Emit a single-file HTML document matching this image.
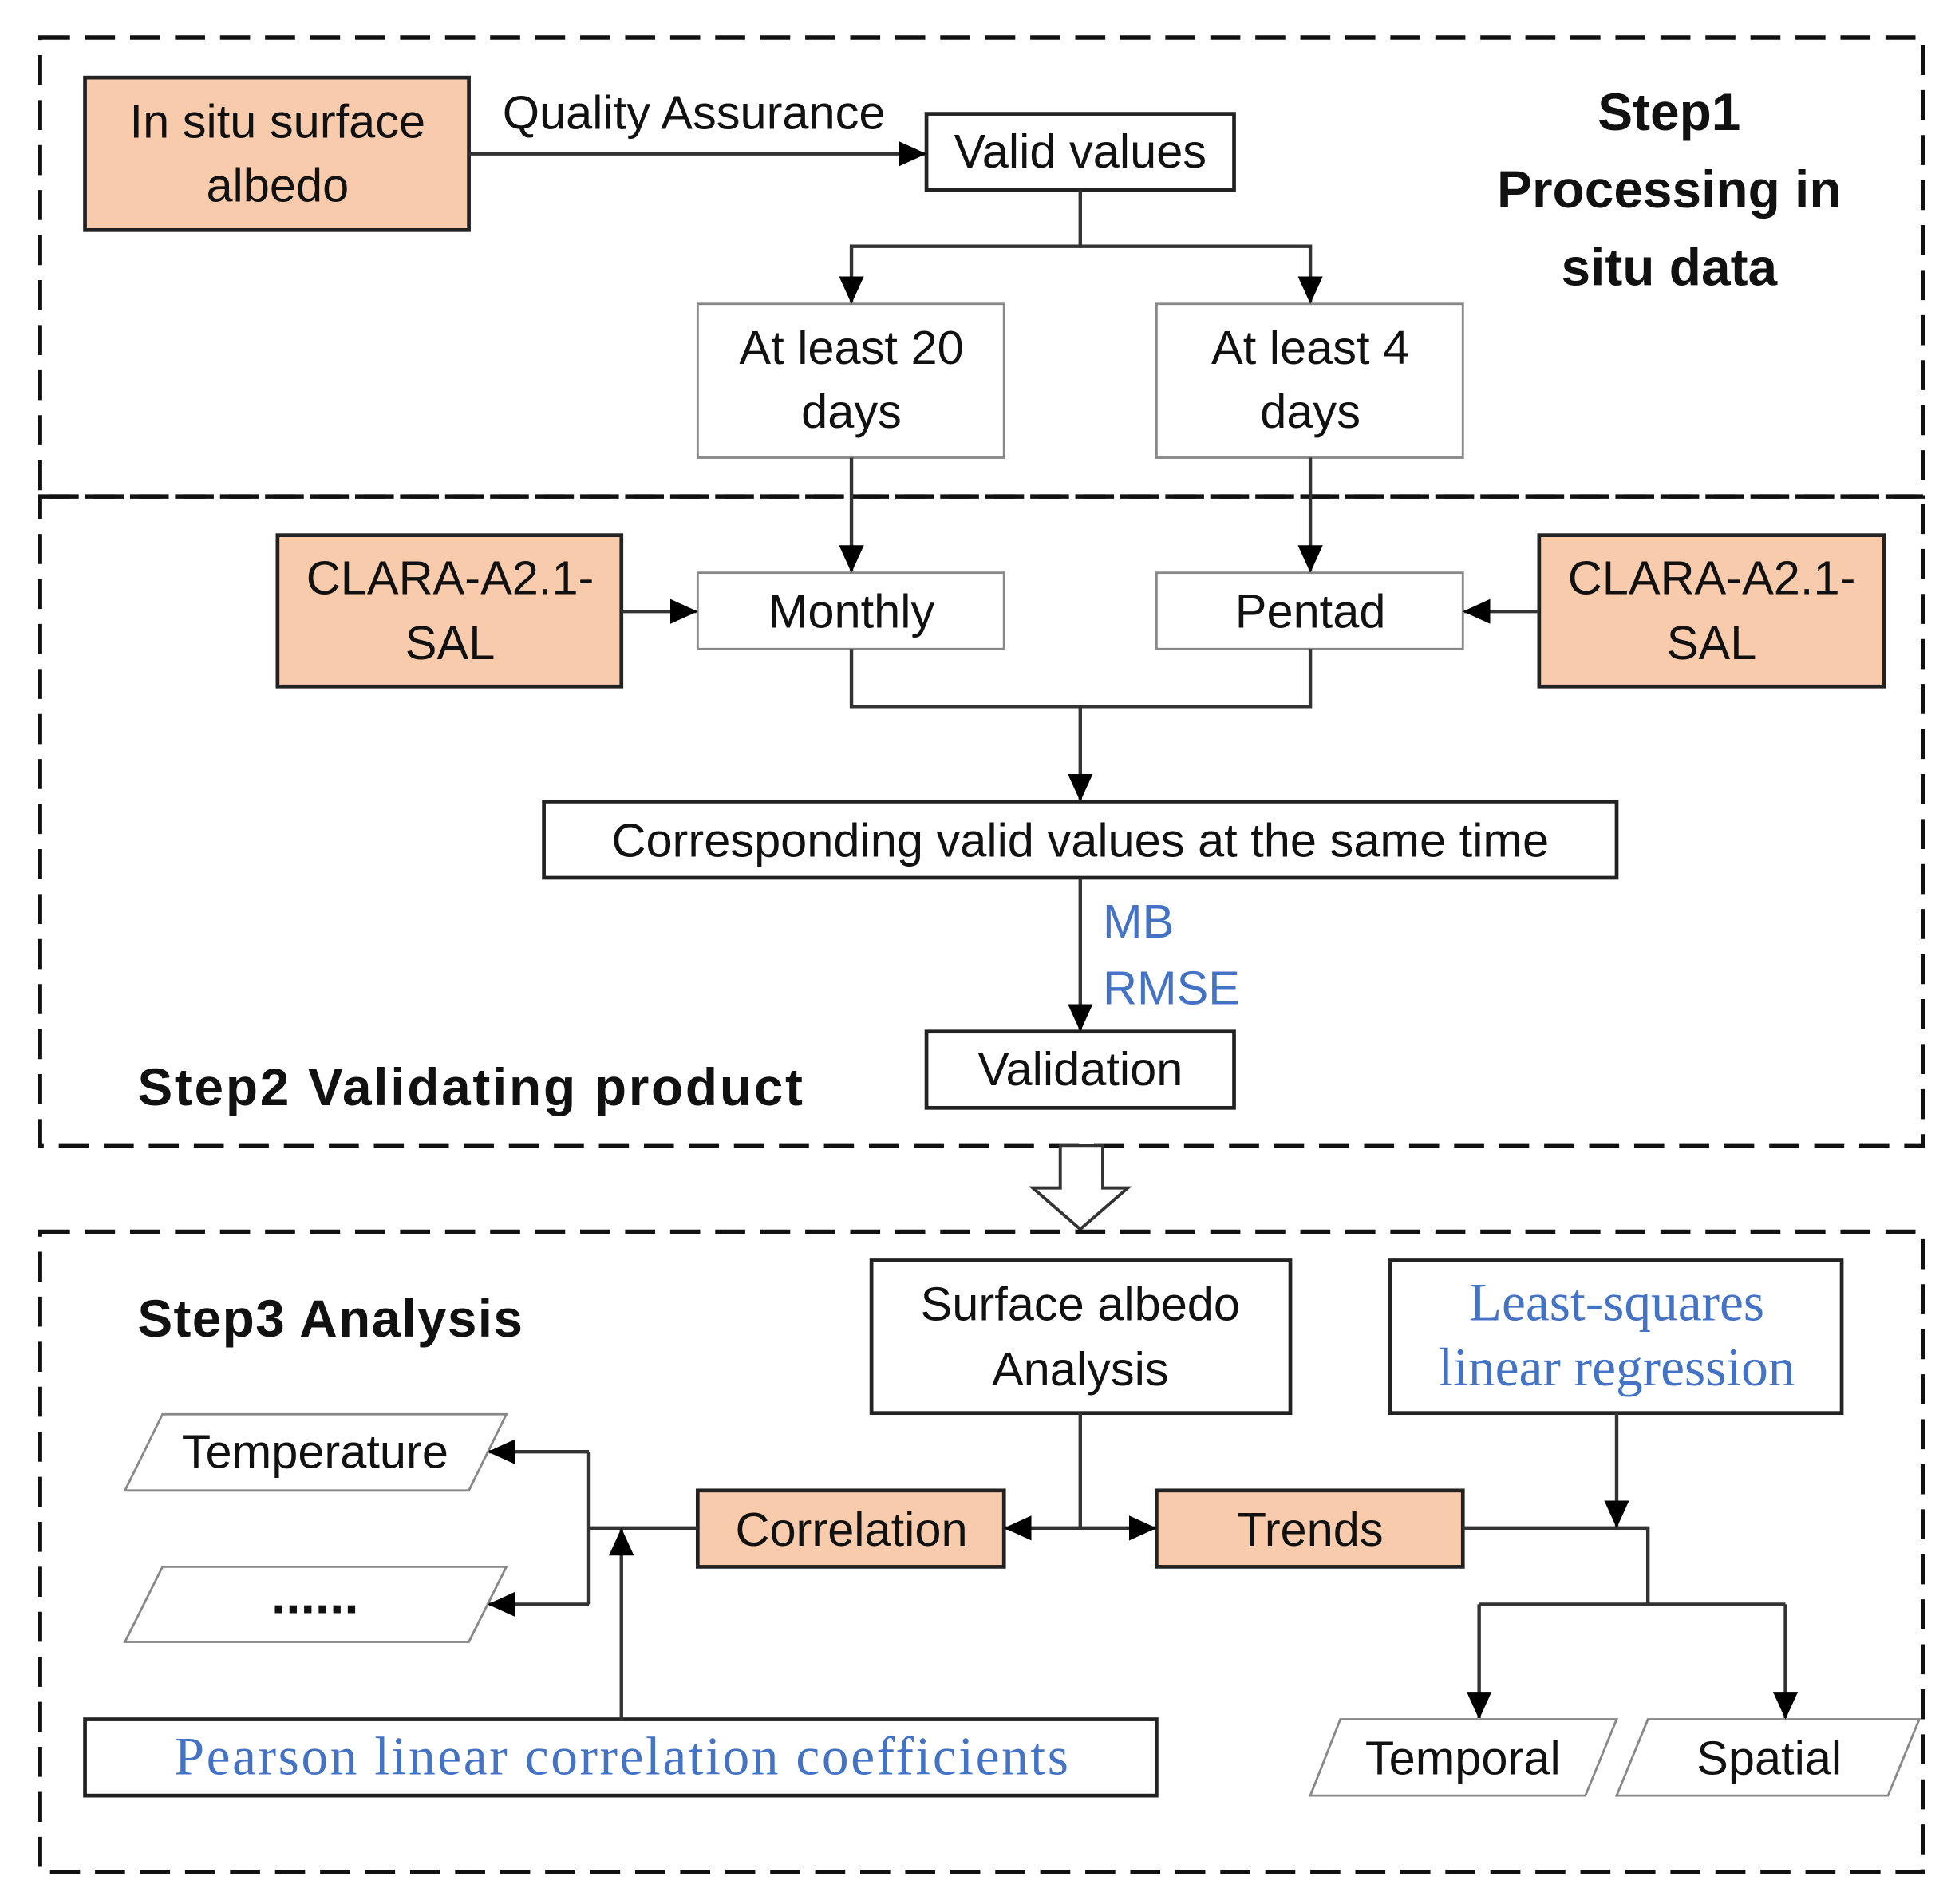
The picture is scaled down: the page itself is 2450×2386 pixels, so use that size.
<!DOCTYPE html>
<html><head><meta charset="utf-8"><style>
html,body{margin:0;padding:0;background:#fff;}
svg{display:block;}
text{font-family:"Liberation Sans",sans-serif;font-size:38px;fill:#111;}
.b{font-family:"Liberation Sans",sans-serif;font-weight:bold;font-size:42px;}
.blue{fill:#4472C4;}
.serif{font-family:"Liberation Serif",serif;font-size:43px;fill:#4472C4;}
</style></head><body>
<svg width="2450" height="2386" viewBox="0 0 1563.6 1522.7" preserveAspectRatio="none" xmlns="http://www.w3.org/2000/svg">
<defs>
<marker id="a" markerWidth="22" markerHeight="22" refX="21" refY="11" orient="auto" markerUnits="userSpaceOnUse" viewBox="0 0 22 22">
<path d="M0,1 L22,11 L0,21 z" fill="#000"/></marker>
</defs>
<rect width="1563.6" height="1522.7" fill="#fff"/>
<g fill="none" stroke="#111" stroke-width="3.5" stroke-dasharray="24,12">
<rect x="32" y="30" width="1506" height="367"/>
<rect x="32" y="397" width="1506" height="519"/>
<rect x="32" y="985" width="1506" height="512"/>
</g>
<g stroke="#222" stroke-width="3">
<rect x="68" y="62" width="307" height="122" fill="#F8CBAD"/>
<rect x="741" y="91" width="246" height="61" fill="#fff"/>
<rect x="222" y="428" width="275" height="121" fill="#F8CBAD"/>
<rect x="1231" y="428" width="276" height="121" fill="#F8CBAD"/>
<rect x="435" y="641" width="858" height="61" fill="#fff"/>
<rect x="741" y="825" width="246" height="61" fill="#fff"/>
<rect x="697" y="1008" width="335" height="122" fill="#fff"/>
<rect x="1112" y="1008" width="361" height="122" fill="#fff"/>
<rect x="558" y="1192" width="245" height="61" fill="#F8CBAD"/>
<rect x="925" y="1192" width="245" height="61" fill="#F8CBAD"/>
<rect x="68" y="1375" width="857" height="61" fill="#fff"/>
</g>
<g stroke="#888" stroke-width="1.8" fill="#fff">
<rect x="558" y="243" width="245" height="123"/>
<rect x="925" y="243" width="245" height="123"/>
<rect x="558" y="458" width="245" height="61"/>
<rect x="925" y="458" width="245" height="61"/>
<polygon points="100,1192 130,1131 405,1131 375,1192"/>
<polygon points="100,1313 130,1253 405,1253 375,1313"/>
<polygon points="1048,1436 1072,1375 1293,1375 1268,1436"/>
<polygon points="1293,1436 1318,1375 1535,1375 1510,1436"/>
</g>
<g fill="none" stroke="#333" stroke-width="2.8">
<path d="M375,123 H740" marker-end="url(#a)"/>
<path d="M864,152 V197 H681 V242" marker-end="url(#a)"/>
<path d="M864,197 H1048 V242" marker-end="url(#a)"/>
<path d="M681,366 V457" marker-end="url(#a)"/>
<path d="M1048,366 V457" marker-end="url(#a)"/>
<path d="M497,489 H557" marker-end="url(#a)"/>
<path d="M1231,489 H1171" marker-end="url(#a)"/>
<path d="M681,519 V565 H1048 V519"/>
<path d="M864,565 V640" marker-end="url(#a)"/>
<path d="M864,702 V824" marker-end="url(#a)"/>
<path d="M864,1130 V1222 H804" marker-end="url(#a)"/>
<path d="M864,1222 H924" marker-end="url(#a)"/>
<path d="M558,1222 H471"/>
<path d="M471,1161 V1283"/>
<path d="M471,1161 H391" marker-end="url(#a)"/>
<path d="M471,1283 H391" marker-end="url(#a)"/>
<path d="M497,1375 V1223" marker-end="url(#a)"/>
<path d="M1170,1222 H1318 V1283"/>
<path d="M1293,1130 V1221" marker-end="url(#a)"/>
<path d="M1183,1283 H1428"/>
<path d="M1183,1283 V1374" marker-end="url(#a)"/>
<path d="M1428,1283 V1374" marker-end="url(#a)"/>
</g>
<path d="M848,916 H882 V950 H902 L864,983 L826,950 H848 Z" fill="#fff" stroke="#333" stroke-width="2.5"/>
<g text-anchor="middle">
<text x="222" y="110">In situ surface</text>
<text x="222" y="161">albedo</text>
<text x="555" y="103">Quality Assurance</text>
<text x="864" y="134">Valid values</text>
<text class="b" x="1335" y="104">Step1</text>
<text class="b" x="1335" y="166">Processing in</text>
<text class="b" x="1335" y="228">situ data</text>
<text x="681" y="291">At least 20</text>
<text x="681" y="342">days</text>
<text x="1048" y="291">At least 4</text>
<text x="1048" y="342">days</text>
<text x="360" y="475">CLARA-A2.1-</text>
<text x="360" y="527">SAL</text>
<text x="1369" y="475">CLARA-A2.1-</text>
<text x="1369" y="527">SAL</text>
<text x="681" y="502">Monthly</text>
<text x="1048" y="502">Pentad</text>
<text x="864" y="685">Corresponding valid values at the same time</text>
<text x="864" y="868">Validation</text>
<text x="864" y="1056">Surface albedo</text>
<text x="864" y="1108">Analysis</text>
<text class="serif" x="1293" y="1056">Least-squares</text>
<text class="serif" x="1293" y="1108">linear regression</text>
<text x="681" y="1236">Correlation</text>
<text x="1048" y="1236">Trends</text>
<text x="252" y="1174">Temperature</text>
<text x="252" y="1290" class="b">......</text>
<text class="serif" x="497" y="1419" textLength="715">Pearson linear correlation coefficients</text>
<text x="1170" y="1419">Temporal</text>
<text x="1415" y="1419">Spatial</text>
</g>
<text class="blue" x="882" y="750">MB</text>
<text class="blue" x="882" y="803">RMSE</text>
<text class="b" x="110" y="884" textLength="532">Step2 Validating product</text>
<text class="b" x="110" y="1069" textLength="308">Step3 Analysis</text>
</svg>
</body></html>
